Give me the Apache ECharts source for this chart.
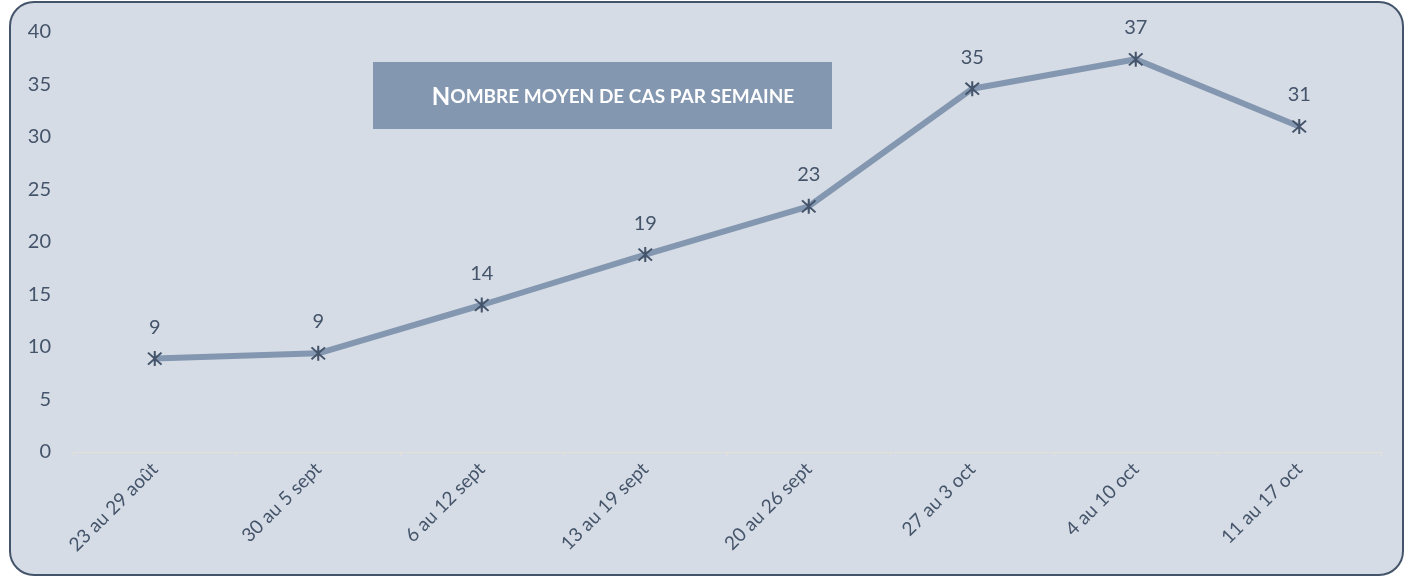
<!DOCTYPE html>
<html>
<head>
<meta charset="utf-8">
<script src="https://cdn.jsdelivr.net/npm/echarts@6/dist/echarts.min.js"></script>
<style>
html,body{margin:0;padding:0;background:#ffffff;}
#chart{width:1405px;height:578px;}
</style>
</head>
<body>
<div id="chart"></div>
<script>
const categories = ['23 au 29 août','30 au 5 sept','6 au 12 sept','13 au 19 sept','20 au 26 sept','27 au 3 oct','4 au 10 oct','11 au 17 oct'];
const values = [8.9, 9.4, 14.0, 18.8, 23.4, 34.6, 37.4, 31.0];
const yTicks = {min: 0, max: 40, interval: 5};

const FONT = 'Lato, "Noto Sans", sans-serif';
const DARK = '#44546A';
const asterisk = 'path://M4.4 0 L5.6 0 L5.6 10 L4.4 10 Z M0.6 1.45 L1.45 0.6 L9.4 8.55 L8.55 9.4 Z M8.55 0.6 L9.4 1.45 L1.45 9.4 L0.6 8.55 Z';

const chart = echarts.init(document.getElementById('chart'));
chart.setOption({
  animation: false,
  backgroundColor: 'transparent',
  graphic: [
    {type:'rect', z:-10, shape:{x:10,y:2,width:1393,height:573,r:24},
     style:{fill:'#D6DCE5', stroke:DARK, lineWidth:2}},
    {type:'rect', z:10, shape:{x:373,y:62,width:459,height:67},
     style:{fill:'#8497B0'}},
    {type:'text', z:11,
     style:{
       text: '{a|N}{b|OMBRE MOYEN DE CAS PAR SEMAINE}',
       x: 613, y: 97, align:'center', verticalAlign:'middle',
       rich:{
         a:{fill:'#ffffff', fontFamily:FONT, fontWeight:'bold', fontSize:24},
         b:{fill:'#ffffff', fontFamily:FONT, fontWeight:'bold', fontSize:19}
       }
     }}
  ],
  grid: {left:73, right:24, top:32, bottom:126},
  xAxis: {
    type:'category', data:categories, boundaryGap:true,
    axisLine:{lineStyle:{color:'#E3E0D8', width:1}},
    axisTick:{show:true, length:5, lineStyle:{color:'#E3E0D8'}},
    axisLabel:{rotate:45, color:DARK, fontFamily:FONT, fontSize:19, margin:14, interval:0}
  },
  yAxis: {
    type:'value', min:yTicks.min, max:yTicks.max, interval:yTicks.interval,
    axisLine:{show:false}, axisTick:{show:false}, splitLine:{show:false},
    axisLabel:{color:DARK, fontFamily:FONT, fontSize:20, margin:22}
  },
  series: [{
    type:'line', data:values,
    lineStyle:{color:'#8497B0', width:6},
    symbol:asterisk, symbolSize:15,
    itemStyle:{color:DARK},
    label:{show:true, position:'top', distance:14, color:DARK, fontFamily:FONT, fontSize:20,
      formatter:p=>Math.round(p.value)}
  }]
});
</script>
</body>
</html>
